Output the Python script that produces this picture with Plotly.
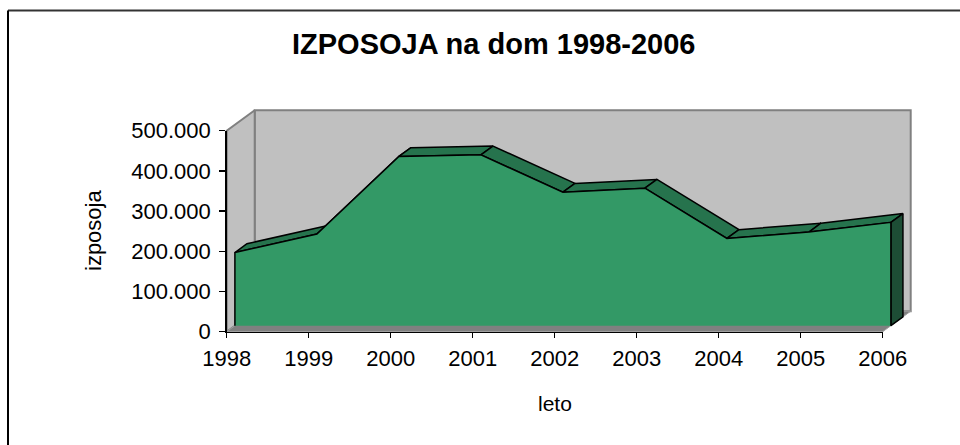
import plotly.graph_objects as go

# ---------------- data ----------------
years = [1998, 1999, 2000, 2001, 2002, 2003, 2004, 2005, 2006]
izposoja = [182000, 228000, 421000, 425000, 332000, 342000, 217000, 233000, 257000]
y_tick_vals = [0, 100000, 200000, 300000, 400000, 500000]
y_tick_labels = ["0", "100.000", "200.000", "300.000", "400.000", "500.000"]
x_tick_labels = ["1998", "1999", "2000", "2001", "2002", "2003", "2004", "2005", "2006"]
title_text = "IZPOSOJA na dom 1998-2006"
x_title = "leto"
y_title = "izposoja"
y_max = 500000

# ---------------- layout calibration (pixels) ----------------
W, H = 960, 445
X0, PX_PER_YEAR = 226.7, 82.0          # pixel of first category, spacing
Y0, PX_PER_VAL = 331.7, 201.0 / 500000  # pixel of zero, pixels per unit


def px_to_x(px):
    return years[0] + (px - X0) / PX_PER_YEAR


def py_to_v(py):
    return (Y0 - py) / PX_PER_VAL


# oblique 3D projection (full depth offset in data units)
DEPTH_X = 28.0 / PX_PER_YEAR
DEPTH_Y = 20.5 / PX_PER_VAL
D_FRONT, D_BACK = 0.293, 0.723


def proj(x, v, d):
    return x + d * DEPTH_X, v + d * DEPTH_Y


FONT = "Liberation Sans, Arial, sans-serif"
GREEN_FRONT = "#339966"
GREEN_TOP = "#26734D"
GREEN_SIDE = "#1D4D35"
WALL = "#C0C0C0"
FLOOR = "#808080"
EDGE = "#808080"

fig = go.Figure()


def poly(points, fill, line_color=None, line_width=0, closed=True):
    xs = [p[0] for p in points]
    ys = [p[1] for p in points]
    if closed:
        xs.append(xs[0])
        ys.append(ys[0])
    tr = dict(x=xs, y=ys, mode="lines", hoverinfo="skip", showlegend=False,
              xaxis="x", yaxis="y")
    if fill is not None:
        tr["fill"] = "toself"
        tr["fillcolor"] = fill
    if line_color is None:
        tr["line"] = dict(width=0, color="rgba(0,0,0,0)")
    else:
        tr["line"] = dict(width=line_width, color=line_color)
    fig.add_trace(go.Scatter(**tr))


x_first, x_last = years[0], years[-1]

# back wall
poly([proj(x_first, 0, 1), proj(x_last, 0, 1), proj(x_last, y_max, 1), proj(x_first, y_max, 1)],
     WALL, EDGE, 2)
# left wall
poly([proj(x_first, 0, 0), proj(x_first, 0, 1), proj(x_first, y_max, 1), proj(x_first, y_max, 0)],
     WALL, EDGE, 2)
# floor
poly([proj(x_first, 0, 0), proj(x_last, 0, 0), proj(x_last, 0, 1), proj(x_first, 0, 1)],
     FLOOR, "#A0A0A0", 1)

# top strips of the area
for i in range(len(years) - 1):
    poly([proj(years[i], izposoja[i], D_FRONT), proj(years[i + 1], izposoja[i + 1], D_FRONT),
          proj(years[i + 1], izposoja[i + 1], D_BACK), proj(years[i], izposoja[i], D_BACK)],
         GREEN_TOP, "black", 1.5)

# right end face
poly([proj(x_last, izposoja[-1], D_FRONT), proj(x_last, 0, D_FRONT),
      proj(x_last, 0, D_BACK), proj(x_last, izposoja[-1], D_BACK)],
     GREEN_SIDE, "black", 1.5)

# front face
front = [proj(x_first, 0, D_FRONT)] + [proj(x, v, D_FRONT) for x, v in zip(years, izposoja)] + \
        [proj(x_last, 0, D_FRONT)]
poly(front, GREEN_FRONT)
poly(front, None, "black", 1.5, closed=False)

# invisible trace for the axes subplot
fig.add_trace(go.Scatter(x=years, y=izposoja, mode="markers", marker=dict(opacity=0),
                         hoverinfo="skip", showlegend=False, xaxis="x2", yaxis="y2"))

axis_font = dict(family=FONT, size=22, color="black")

fig.update_layout(
    width=W, height=H,
    autosize=False,
    margin=dict(l=0, r=0, t=0, b=0, pad=0, autoexpand=False),
    paper_bgcolor="white",
    plot_bgcolor="rgba(0,0,0,0)",
    hovermode=False,
    showlegend=False,
    xaxis=dict(domain=[0, 1], range=[px_to_x(0), px_to_x(W)], visible=False,
               fixedrange=True, automargin=False),
    yaxis=dict(domain=[0, 1], range=[py_to_v(H), py_to_v(0)], visible=False,
               fixedrange=True, automargin=False),
    xaxis2=dict(domain=[X0 / W, (X0 + (x_last - x_first) * PX_PER_YEAR) / W],
                range=[x_first, x_last], anchor="y2", automargin=False, fixedrange=True,
                showline=True, linecolor="black", linewidth=1.5,
                showgrid=False, zeroline=False,
                ticks="outside", ticklen=5, tickwidth=1.5, tickcolor="black",
                tickvals=years, ticktext=x_tick_labels, tickfont=axis_font,
                ticklabelstandoff=1),
    yaxis2=dict(domain=[(H - Y0) / H, (H - (Y0 - y_max * PX_PER_VAL)) / H],
                range=[0, y_max], anchor="x2", automargin=False, fixedrange=True,
                showline=True, linecolor="black", linewidth=1.5,
                showgrid=False, zeroline=False,
                ticks="outside", ticklen=6, tickwidth=1.5, tickcolor="black",
                tickvals=y_tick_vals, ticktext=y_tick_labels, tickfont=axis_font,
                ticklabelstandoff=4),
    annotations=[
        dict(text=title_text, xref="paper", yref="paper", x=493 / W, y=1 - 43.5 / H,
             xanchor="center", yanchor="middle", showarrow=False,
             font=dict(family=FONT, size=29, color="black", weight="bold")),
        dict(text=x_title, xref="paper", yref="paper", x=555 / W, y=1 - 403 / H,
             xanchor="center", yanchor="middle", showarrow=False,
             font=dict(family=FONT, size=21, color="black")),
        dict(text=y_title, xref="paper", yref="paper", x=93 / W, y=1 - 231 / H,
             xanchor="center", yanchor="middle", showarrow=False, textangle=-90,
             font=dict(family=FONT, size=22, color="black")),
    ],
    shapes=[
        dict(type="line", xref="paper", yref="paper", x0=8 / W, x1=1, y0=1 - 10.5 / H, y1=1 - 10.5 / H,
             line=dict(color="#333333", width=2)),
        dict(type="line", xref="paper", yref="paper", x0=8 / W, x1=8 / W, y0=1 - 10.5 / H, y1=0,
             line=dict(color="black", width=2)),
    ],
)

fig.write_html("out.html",
               config={"displayModeBar": False, "staticPlot": True},
               post_script="document.body.style.margin='0';document.body.style.overflow='hidden';")
